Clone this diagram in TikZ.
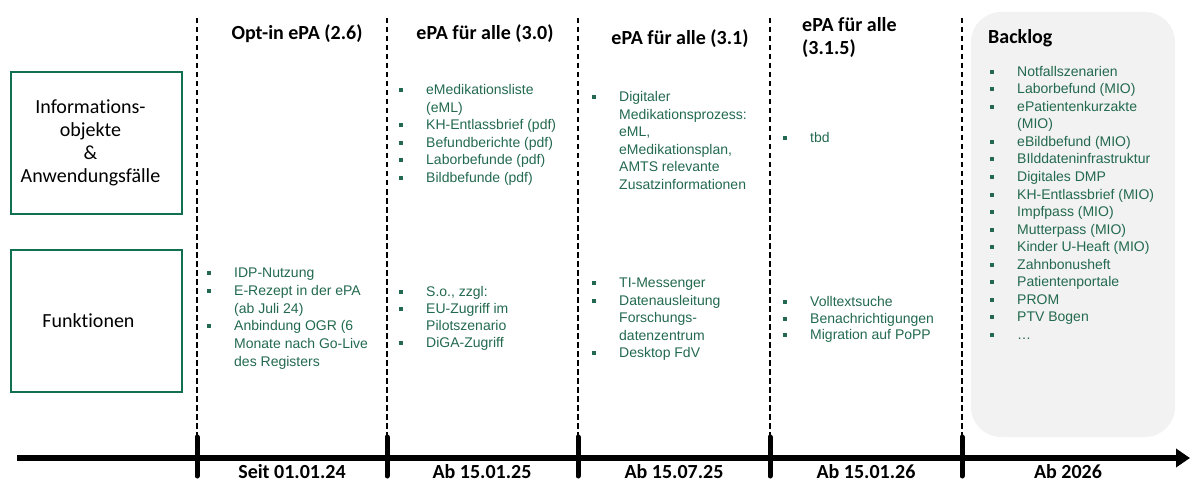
\documentclass[tikz,border=0pt]{standalone}
\usepackage{fontspec}
\setmainfont[RawFeature={-liga;-clig;-calt;-dlig}]{Carlito}
\newfontfamily\listfont{Liberation Sans}
\usetikzlibrary{arrows.meta}
\definecolor{epagreen}{HTML}{10704F}
\definecolor{itemgreen}{HTML}{22694F}
\definecolor{backlog}{HTML}{F2F2F2}
\tikzset{
  listtext/.style={anchor=base west,inner sep=0pt,font=\listfont\fontsize{14}{17}\selectfont,text=itemgreen},
  head/.style={anchor=base,inner sep=0pt,font=\bfseries\fontsize{20}{23}\selectfont},
  sidebox/.style={draw=epagreen,line width=2pt,minimum width=171pt,minimum height=142pt,inner sep=0pt},
  sidetext/.style={align=center,inner sep=0pt,font=\fontsize{20}{23}\selectfont},
  phase/.style={line width=1.8pt,dash pattern=on 5.5pt off 3.5pt},
  tick/.style={line width=5pt,line cap=round}
}
% #1 name, #2 bullet x, #3 first baseline, #4 line step, #5 lines (1 = bullet, 0 = follow-on)
\newcommand{\itemlist}[5]{%
  \foreach \p/\t [count=\i from 0] in {#5}{
    \node[listtext] (#1\i) at (#2+25,#3+\i*#4) {\t};
    \ifnum\p=1 \fill[itemgreen] (#2-2,#3+\i*#4-6.5) rectangle ++(4,4);\fi
  }}

\begin{document}
\begin{tikzpicture}[x=1pt,y=-1pt]
  \useasboundingbox (0,0) rectangle (1190,481);
  \fill[backlog,rounded corners=30pt] (971,12) rectangle (1175,437);
  % row labels
  \node[sidebox] (info) at (96.5,143) {};
  \node[sidetext] (infotxt) at ([xshift=-6pt]info.center) {Informations-\\objekte\\\&\\Anwendungsfälle};
  \node[sidebox] (func) at (96.5,321) {};
  \node[sidetext] (functxt) at ([xshift=-8pt]func.center) {Funktionen};
  % phase lines
  \foreach \x [count=\k] in {197,387,578,770,962}{
    \coordinate (top\k) at (\x,18);
    \coordinate (tick\k) at (\x,437);
    \coordinate (bot\k) at (\x,476);
    \draw[phase] (top\k) -- (tick\k);
  }
  % headers
  \node[head] (h1) at (297,40) {Opt-in ePA (2.6)};
  \node[head] (h2) at (485,40) {ePA für alle (3.0)};
  \node[head] (h3) at (680,45) {ePA für alle (3.1)};
  \node[head,anchor=base west] (h4) at (802,32) {ePA für alle};
  \node[head,anchor=base west] (h4b) at (802,55) {(3.1.5)};
  \node[head,anchor=base west] (h5) at (988,44) {Backlog};
  % contents
  \itemlist{fa}{209}{277.5}{17.8}{1/IDP-Nutzung, 1/E-Rezept in der ePA, 0/(ab Juli 24), 1/Anbindung OGR (6, 0/Monate nach Go-Live, 0/des Registers}
  \itemlist{ib}{401}{94.5}{17.6}{1/eMedikationsliste, 0/(eML), 1/KH-Entlassbrief (pdf), 1/Befundberichte (pdf), 1/Laborbefunde (pdf), 1/Bildbefunde (pdf)}
  \itemlist{fb}{401}{296.5}{17}{1/{S.o., zzgl:}, 1/EU-Zugriff im, 0/Pilotszenario, 1/DiGA-Zugriff}
  \itemlist{ic}{594}{101.5}{17.6}{1/Digitaler, 0/Medikationsprozess:, 0/{eML,}, 0/{eMedikationsplan,}, 0/AMTS relevante, 0/Zusatzinformationen}
  \itemlist{fc}{594}{287.5}{17.5}{1/TI-Messenger, 1/Datenausleitung, 0/Forschungs-, 0/datenzentrum, 1/Desktop FdV}
  \itemlist{id}{785}{142.5}{17.5}{1/tbd}
  \itemlist{fd}{785}{306.5}{16.5}{1/Volltextsuche, 1/Benachrichtigungen, 1/Migration auf PoPP}
  \itemlist{bl}{992}{76.5}{17.5}{1/Notfallszenarien, 1/Laborbefund (MIO), 1/ePatientenkurzakte, 0/(MIO), 1/eBildbefund (MIO), 1/BIlddateninfrastruktur, 1/Digitales DMP, 1/KH-Entlassbrief (MIO), 1/Impfpass (MIO), 1/Mutterpass (MIO), 1/Kinder U-Heaft (MIO), 1/Zahnbonusheft, 1/Patientenportale, 1/PROM, 1/PTV Bogen, 1/\ldots}
  % time axis
  \coordinate (axs) at (17,458);
  \coordinate (axe) at (1190,458);
  \draw[line width=6pt,-{Triangle[length=14pt,width=18pt]}] (axs) -- (axe);
  \foreach \k in {1,...,5}{\draw[tick] (tick\k) -- (bot\k);}
  \foreach \x/\d [count=\k] in {292/Seit 01.01.24,482/Ab 15.01.25,674/Ab 15.07.25,866/Ab 15.01.26,1068/Ab 2026}{
    \node[head] (date\k) at (\x,478) {\d};
  }
\end{tikzpicture}
\end{document}
